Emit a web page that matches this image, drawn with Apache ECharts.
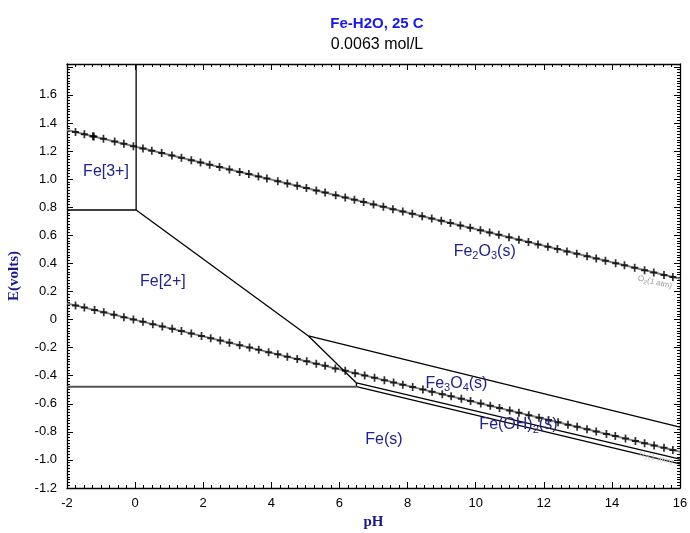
<!DOCTYPE html>
<html><head><meta charset="utf-8">
<script src="https://cdn.jsdelivr.net/npm/echarts@6/dist/echarts.min.js"></script>
<style>html,body{margin:0;padding:0;background:#fff}#c{width:690px;height:533px}</style>
</head><body><div id="c"></div>
<script>
const titleText = 'Fe-H2O, 25 C';
const subtitleText = '0.0063 mol/L';
const xAxisName = 'pH';
const yAxisName = 'E(volts)';
const xTicks = [-2, 0, 2, 4, 6, 8, 10, 12, 14, 16];
const yTicks = [-1.2, -1.0, -0.8, -0.6, -0.4, -0.2, 0, 0.2, 0.4, 0.6, 0.8, 1.0, 1.2, 1.4, 1.6];
const yMax = 1.82;

// water stability lines (O2 / H2 at 1 atm)
const o2Line = [[-2, 1.35], [16, 0.29]];
const h2Line = [[-2, 0.115], [16, -0.942]];

const o2MarkPH = [-1.75,-1.49,-1.24,-1.21,-0.93,-0.60,-0.33,-0.05,0.23,0.49,0.78,1.08,1.36,1.65,1.92,2.19,2.48,2.77,3.07,3.34,3.62,3.87,4.19,4.47,4.76,5.03,5.32,5.58,5.89,6.17,6.44,6.71,7.00,7.29,7.57,7.86,8.14,8.43,8.71,8.99,9.26,9.55,9.84,10.14,10.41,10.68,10.98,11.27,11.55,11.83,12.12,12.40,12.68,12.97,13.27,13.54,13.81,14.11,14.37,14.67,14.96,15.23,15.53,15.79];
const o2MarkE = [1.335,1.320,1.305,1.303,1.287,1.268,1.252,1.235,1.219,1.203,1.186,1.169,1.152,1.135,1.119,1.103,1.086,1.069,1.051,1.036,1.019,1.004,0.985,0.969,0.952,0.936,0.919,0.904,0.885,0.869,0.853,0.837,0.820,0.803,0.786,0.769,0.753,0.736,0.719,0.703,0.687,0.670,0.653,0.635,0.619,0.603,0.586,0.568,0.552,0.535,0.518,0.502,0.485,0.468,0.451,0.435,0.419,0.401,0.386,0.368,0.351,0.335,0.318,0.302];

const h2MarkPH = [-1.75,-1.49,-1.19,-0.92,-0.62,-0.33,-0.05,0.23,0.52,0.80,1.09,1.36,1.65,1.95,2.22,2.50,2.77,3.07,3.36,3.63,3.92,4.19,4.47,4.76,5.04,5.32,5.58,5.88,6.17,6.46,6.74,7.03,7.32,7.59,7.86,8.15,8.45,8.72,9.02,9.28,9.58,9.85,10.15,10.43,10.70,11.00,11.27,11.56,11.86,12.14,12.42,12.71,12.98,13.27,13.54,13.84,14.10,14.40,14.69,14.96,15.24,15.53,15.79];
const h2MarkE = [0.100,0.085,0.068,0.052,0.034,0.017,0.001,-0.016,-0.033,-0.049,-0.066,-0.082,-0.099,-0.117,-0.133,-0.149,-0.165,-0.183,-0.200,-0.215,-0.233,-0.248,-0.265,-0.282,-0.298,-0.315,-0.330,-0.348,-0.365,-0.382,-0.398,-0.415,-0.432,-0.448,-0.464,-0.481,-0.498,-0.514,-0.532,-0.547,-0.565,-0.581,-0.598,-0.615,-0.631,-0.648,-0.664,-0.681,-0.699,-0.715,-0.732,-0.749,-0.764,-0.781,-0.797,-0.815,-0.830,-0.848,-0.865,-0.881,-0.897,-0.914,-0.929];

// predominance boundaries
const boundaries = [
  [[-2, 0.78], [0.03, 0.78]],
  [[0.03, 0.78], [0.03, 1.82]],
  [[0.03, 0.78], [5.09, -0.117]],
  [[5.09, -0.117], [6.5, -0.452]],
  [[5.09, -0.117], [16, -0.767]],
  [[6.5, -0.452], [16, -0.995]],
  [[6.5, -0.452], [6.5, -0.478]],
  [[6.5, -0.478], [16, -1.028]]
];
const feBoundary = [[-2, -0.478], [6.5, -0.478]];

// region labels
const regionNames = ['Fe[3+]', 'Fe[2+]', 'Fe{s|2}O{s|3}(s)', 'Fe{s|3}O{s|4}(s)', 'Fe(OH){s|2}(s)', 'Fe(s)'];
const regionPH = [-0.84, 0.83, 10.28, 9.45, 11.27, 7.32];
const regionE = [1.052, 0.268, 0.48, -0.462, -0.755, -0.858];

const waterNames = ['O{s|2}(1 atm)', 'H{s|2}(1 atm)'];
const waterPH = [15.28, 15.31];
const waterE = [0.262, -0.99];
const waterColors = ['#9a9a9a', '#c8c8c8'];

const FONT = '"Liberation Sans", Arial, sans-serif';
const LABEL_COLOR = '#22228c';
const plus = 'path://M3,0h2v3h3v2h-3v3h-2v-3h-3v-2h3z';

const chart = echarts.init(document.getElementById('c'), null, {renderer: 'canvas'});

const series = [];
function lineSeries(data, color, width) {
  return {type: 'line', data: data, symbol: 'none', silent: true, animation: false,
    lineStyle: {color: color, width: width}, z: 2};
}
series.push(lineSeries(o2Line, '#7f7f7f', 2));
series.push(lineSeries(h2Line, '#7f7f7f', 2));
boundaries.forEach(b => series.push(lineSeries(b, '#000', 1.3)));
series.push(lineSeries(feBoundary, '#555', 2));
series.push({type: 'scatter', symbol: plus, symbolSize: [7, 8], animation: false, z: 3,
  itemStyle: {color: '#000'}, data: o2MarkPH.map((p, i) => [p, o2MarkE[i]])});
series.push({type: 'scatter', symbol: plus, symbolSize: [7, 8], animation: false, z: 3,
  itemStyle: {color: '#000'}, data: h2MarkPH.map((p, i) => [p, h2MarkE[i]])});
series.push({type: 'scatter', symbol: 'circle', symbolSize: 1, animation: false, z: 5, silent: true,
  itemStyle: {color: '#ffffff', opacity: 0},
  data: regionNames.map((n, i) => ({value: [regionPH[i], regionE[i]], name: n})),
  label: {show: true, position: [0, 0], align: 'center', verticalAlign: 'middle', opacity: 1,
    formatter: p => p.name,
    color: LABEL_COLOR, fontFamily: FONT, fontSize: 16, textBorderWidth: 0, textBorderColor: 'transparent',
    rich: {s: {fontSize: 11, color: LABEL_COLOR, fontFamily: FONT, textBorderWidth: 0, verticalAlign: 'bottom', padding: [9, 0, 0, 0]}}}});
waterNames.forEach((n, i) => {
  series.push({type: 'scatter', symbol: 'circle', symbolSize: 1, animation: false, z: 5, silent: true,
    itemStyle: {color: '#ffffff', opacity: 0},
    data: [{value: [waterPH[i], waterE[i]], name: n}],
    label: {show: true, position: [0, 0], align: 'center', verticalAlign: 'middle', opacity: 1,
      formatter: p => p.name, rotate: -13.6,
      color: waterColors[i], fontFamily: FONT, fontSize: 8, textBorderWidth: 0, textBorderColor: 'transparent',
      rich: {s: {fontSize: 6, color: waterColors[i], fontFamily: FONT, textBorderWidth: 0, verticalAlign: 'bottom', padding: [5, 0, 0, 0]}}}});
});

const grid = {left: 67, right: 10, top: 64, bottom: 45, containLabel: false, outerBoundsMode: 'none'};
function xAx(pos, showLabel) {
  return {type: 'value', position: pos, min: xTicks[0], max: xTicks[xTicks.length - 1], interval: xTicks[1] - xTicks[0],
    name: showLabel ? xAxisName : '', nameLocation: 'middle', nameGap: 26,
    nameTextStyle: {fontFamily: '"Liberation Serif", "Times New Roman", serif', fontWeight: 'bold', fontSize: 15, color: '#1a1a8c'},
    axisLine: {show: true, onZero: false, lineStyle: {color: '#000', width: 1.3}},
    axisTick: {show: true, inside: true, length: 6, lineStyle: {color: '#000', width: 1}},
    minorTick: {show: true, splitNumber: 8, length: 3, lineStyle: {color: '#000', width: 1}},
    axisLabel: {show: showLabel, margin: 9, color: '#000', fontFamily: FONT, fontSize: 13,
      formatter: v => String(Math.round(v))},
    splitLine: {show: false}, minorSplitLine: {show: false}};
}
function yAx(pos, showLabel) {
  return {type: 'value', position: pos, min: yTicks[0], max: yMax, interval: 0.2,
    name: showLabel ? yAxisName : '', nameLocation: 'middle', nameGap: 45, nameRotate: 90,
    nameTextStyle: {fontFamily: '"Liberation Serif", "Times New Roman", serif', fontWeight: 'bold', fontSize: 15, color: '#1a1a8c'},
    axisLine: {show: true, onZero: false, lineStyle: {color: '#000', width: 1.3}},
    axisTick: {show: true, inside: true, length: 6, lineStyle: {color: '#000', width: 1}},
    minorTick: {show: true, splitNumber: 10, length: 3, lineStyle: {color: '#000', width: 1}},
    axisLabel: {show: showLabel, margin: 10, color: '#000', fontFamily: FONT, fontSize: 13,
      formatter: v => {
        if (v > yTicks[yTicks.length - 1] + 0.05) return '';
        if (Math.abs(v) < 1e-9) return '0';
        return v.toFixed(1);
      }},
    splitLine: {show: false}, minorSplitLine: {show: false}};
}

chart.setOption({
  animation: false,
  backgroundColor: '#fff',
  grid: grid,
  xAxis: [xAx('bottom', true), xAx('top', false)],
  yAxis: [yAx('left', true), yAx('right', false)],
  series: series,
  graphic: [
    {type: 'text', x: 377, y: 24, style: {text: titleText, fill: '#1818e8', font: 'bold 15px ' + FONT, align: 'center', verticalAlign: 'middle'}},
    {type: 'text', x: 377, y: 45, style: {text: subtitleText, fill: '#000', font: '16px ' + FONT, align: 'center', verticalAlign: 'middle'}}
  ]
});
</script></body></html>
